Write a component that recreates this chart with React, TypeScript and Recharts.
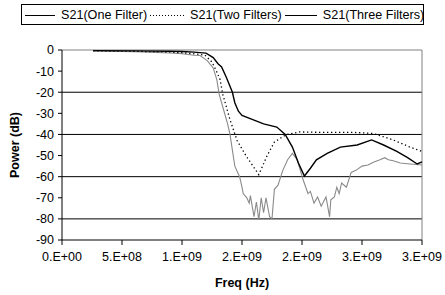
import React from 'react';
import { LineChart, Line, XAxis, YAxis, CartesianGrid, ReferenceLine, Label } from 'recharts';

const seriesNames = ['S21(One Filter)', 'S21(Two Filters)', 'S21(Three Filters)'];
const xTicks = [0, 5e8, 1e9, 1.5e9, 2e9, 2.5e9, 3e9];
const yTicks = [0, -10, -20, -30, -40, -50, -60, -70, -80, -90];

// S21 one filter
const freqOne = [2.6e8, 6e8, 9e8, 1.0e9, 1.1e9, 1.2e9, 1.26e9, 1.3e9, 1.33e9, 1.37e9, 1.42e9, 1.44e9, 1.47e9, 1.5e9, 1.59e9, 1.68e9, 1.79e9, 1.86e9, 1.92e9, 1.97e9, 2.02e9, 2.07e9, 2.12e9, 2.21e9, 2.32e9, 2.46e9, 2.58e9, 2.68e9, 2.79e9, 2.88e9, 2.96e9, 3.0e9];
const s21One = [-0.3, -0.4, -0.6, -0.7, -1.0, -1.5, -3.6, -6.5, -8, -13, -20, -25, -29, -31, -33, -35, -36.5, -40, -46, -53.5, -59.7, -56, -52, -49, -46, -45, -42.6, -45, -48, -51, -54, -53];

// S21 two filters
const freqTwo = [2.6e8, 6e8, 9e8, 1.0e9, 1.1e9, 1.19e9, 1.25e9, 1.29e9, 1.317e9, 1.34e9, 1.4e9, 1.46e9, 1.54e9, 1.64e9, 1.71e9, 1.77e9, 1.87e9, 1.98e9, 2.15e9, 2.42e9, 2.59e9, 2.76e9, 2.9e9, 3.0e9];
const s21Two = [-0.4, -0.6, -1.0, -1.3, -1.8, -2.4, -5.7, -10.4, -14, -21, -33, -43, -50.7, -59, -50, -43.6, -40, -38.8, -39, -39, -39.5, -42.6, -46, -48];

// S21 three filters
const freqThree = [2.6e8, 6e8, 9e8, 1.0e9, 1.1e9, 1.15e9, 1.21e9, 1.26e9, 1.29e9, 1.31e9, 1.34e9, 1.38e9, 1.4e9, 1.44e9, 1.48e9, 1.5e9, 1.51e9, 1.54e9, 1.56e9, 1.57e9, 1.6e9, 1.62e9, 1.64e9, 1.66e9, 1.68e9, 1.7e9, 1.73e9, 1.75e9, 1.77e9, 1.8e9, 1.84e9, 1.88e9, 1.92e9, 1.96e9, 2.01e9, 2.05e9, 2.07e9, 2.1e9, 2.13e9, 2.16e9, 2.2e9, 2.23e9, 2.24e9, 2.27e9, 2.29e9, 2.31e9, 2.33e9, 2.37e9, 2.41e9, 2.45e9, 2.5e9, 2.55e9, 2.6e9, 2.65e9, 2.69e9, 2.72e9, 2.76e9, 2.82e9, 2.9e9, 3.0e9];
const s21Three = [-0.5, -0.8, -1.4, -1.8, -2.5, -2.6, -5, -8.5, -14, -21, -27, -35, -40, -55, -60, -65, -68, -70, -72.5, -69, -79, -72, -80.5, -70, -77, -70, -79, -80, -66, -64, -57, -52, -49, -52, -61.6, -68, -67, -72.5, -69.6, -74, -69.6, -79, -71, -69.6, -65, -68, -63, -65, -58, -57, -55, -54.5, -53, -52, -51, -52, -52.5, -53.5, -54, -54.5];

const toPoints = (xs: number[], ys: number[]) => xs.map((f, i) => ({ freq: f, db: ys[i] }));
const dataOne = toPoints(freqOne, s21One);
const dataTwo = toPoints(freqTwo, s21Two);
const dataThree = toPoints(freqThree, s21Three);

const font = '"Liberation Sans", Arial, sans-serif';

// Excel style "0.E+00"
const sci = (v: number) => {
  if (v === 0) return '0.E+00';
  let e = Math.floor(Math.log10(Math.abs(v)));
  let m = Math.round(v / Math.pow(10, e));
  if (m >= 10) { m = 1; e += 1; }
  return `${m}.E+${String(e).padStart(2, '0')}`;
};

const LegendSwatch = ({ dashed, w }: { dashed?: boolean; w: number }) => (
  <svg width={w} height={10} style={{ marginRight: 6, flexShrink: 0 }}>
    <line x1={0} y1={5.5} x2={w} y2={5.5} stroke="#000" strokeWidth={1} strokeDasharray={dashed ? '1 2' : undefined} />
  </svg>
);

export default function App() {
  return (
    <div style={{ position: 'absolute', left: 0, top: 0, width: 445, height: 295, background: '#fff', fontFamily: font }}>
      <div
        style={{
          position: 'absolute', left: 21, top: 4, width: 398, height: 19, border: '1px solid #000',
          display: 'flex', alignItems: 'center', fontSize: 12.6, color: '#000', paddingLeft: 3, whiteSpace: 'nowrap',
        }}
      >
        <LegendSwatch w={30} />
        <span style={{ marginRight: 3 }}>{seriesNames[0]}</span>
        <LegendSwatch w={34} dashed />
        <span style={{ marginRight: 3 }}>{seriesNames[1]}</span>
        <LegendSwatch w={32} />
        <span>{seriesNames[2]}</span>
      </div>
      <LineChart width={445} height={295} margin={{ top: 50, right: 23, left: 0, bottom: 0 }}>
        <CartesianGrid vertical={false} horizontalValues={[-10, -20, -30, -40, -50, -60, -70, -80]} stroke="#000" strokeWidth={1} />
        <XAxis
          dataKey="freq"
          type="number"
          domain={[0, 3e9]}
          ticks={xTicks}
          tickFormatter={sci}
          height={55}
          stroke="#000"
          tickSize={5}
          tickMargin={7}
          tick={{ fill: '#000', fontSize: 12.5, fontFamily: font }}
          allowDuplicatedCategory={false}
        >
          <Label
            content={({ viewBox }: any) => (
              <text x={viewBox.x + viewBox.width / 2} y={287} textAnchor="middle" fontSize={12.5} fontWeight="bold" fontFamily={font} fill="#000">
                Freq (Hz)
              </text>
            )}
          />
        </XAxis>
        <YAxis
          type="number"
          domain={[-90, 0]}
          ticks={yTicks}
          width={62}
          stroke="#000"
          tickSize={4}
          tickMargin={4}
          tick={{ fill: '#000', fontSize: 12.5, fontFamily: font }}
        >
          <Label
            content={({ viewBox }: any) => {
              const cx = 15;
              const cy = viewBox.y + viewBox.height / 2;
              return (
                <text x={cx} y={cy} transform={`rotate(-90 ${cx} ${cy})`} textAnchor="middle" dominantBaseline="central" fontSize={12.5} fontWeight="bold" fontFamily={font} fill="#000">
                  Power (dB)
                </text>
              );
            }}
          />
        </YAxis>
        <ReferenceLine y={0} stroke="#808080" strokeWidth={1} />
        <ReferenceLine x={3e9} stroke="#808080" strokeWidth={1} />
        <Line data={dataThree} dataKey="db" name={seriesNames[2]} stroke="#8a8a8a" strokeWidth={1.1} dot={false} isAnimationActive={false} />
        <Line data={dataTwo} dataKey="db" name={seriesNames[1]} stroke="#000" strokeWidth={1.3} strokeDasharray="1.3 2.7" dot={false} isAnimationActive={false} />
        <Line data={dataOne} dataKey="db" name={seriesNames[0]} stroke="#000" strokeWidth={1.4} dot={false} isAnimationActive={false} />
      </LineChart>
    </div>
  );
}
